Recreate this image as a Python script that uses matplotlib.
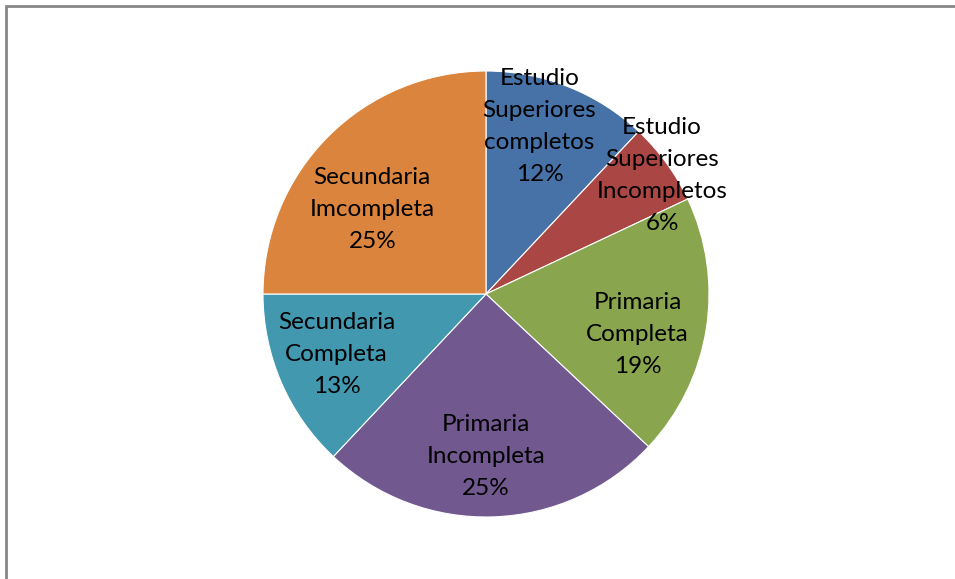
import matplotlib.pyplot as plt
from matplotlib.patches import Rectangle

plt.rcParams['font.family'] = ['Lato', 'DejaVu Sans']

# education level shares (percent), clockwise from 12 o'clock
categories = ['Estudio\nSuperiores\ncompletos', 'Estudio\nSuperiores\nIncompletos',
              'Primaria\nCompleta', 'Primaria\nIncompleta',
              'Secundaria\nCompleta', 'Secundaria\nImcompleta']
shares = [12, 6, 19, 25, 13, 25]
colors = ['#4672A7', '#AA4643', '#89A54E', '#71588F', '#4198AF', '#DB843D']

# where each label sits, in pie-radius units from the centre
label_pos = [(0.24, 0.75), (0.79, 0.53), (0.68, -0.18),
             (0.0, -0.73), (-0.67, -0.27), (-0.51, 0.38)]

fig = plt.figure(figsize=(9.55, 5.79), dpi=100)
ax = fig.add_axes([263 / 955, 62 / 579, 446 / 955, 446 / 579])

ax.pie(shares, colors=colors, startangle=90, counterclock=False, radius=1,
       wedgeprops=dict(edgecolor='white', linewidth=0.8))
ax.set_aspect('auto')
ax.set_xlim(-1, 1)
ax.set_ylim(-1, 1)
ax.axis('off')

for name, val, (x, y) in zip(categories, shares, label_pos):
    ax.text(x, y, f'{name}\n{val}%', ha='center', va='center',
            fontsize=17.5, linespacing=1.65, color='black')

# chart area border (only top and left edges fall inside the image)
fig.patches.append(Rectangle((5.5 / 955, -0.1), 1.2, (579 - 5.5) / 579 + 0.1,
                             transform=fig.transFigure, fill=False,
                             edgecolor='#878787', linewidth=2))

fig.savefig('out.png', dpi=100)
